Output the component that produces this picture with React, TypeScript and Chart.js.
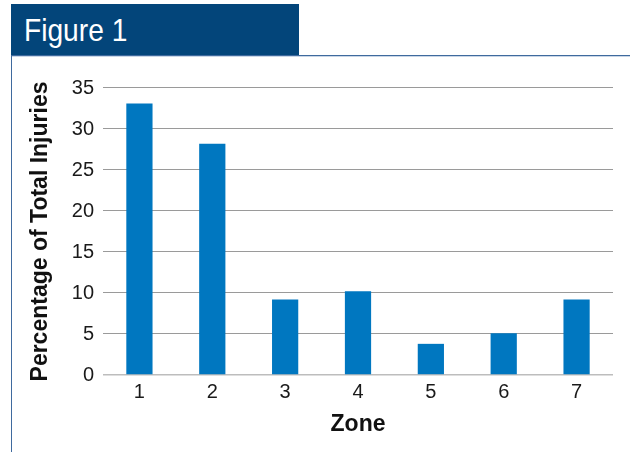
import React, { useEffect, useRef } from "react";
import { Chart, registerables } from "chart.js";

Chart.register(...registerables);

// Share of injuries by zone
const zones = ["1", "2", "3", "4", "5", "6", "7"];
const injuryShare = [33.1, 28.2, 9.2, 10.2, 3.8, 5.1, 9.2];
const yTicks = [0, 5, 10, 15, 20, 25, 30, 35];

const FONT = '"Liberation Sans", Arial, Helvetica, sans-serif';

export default function App() {
  const canvasRef = useRef<HTMLCanvasElement | null>(null);

  useEffect(() => {
    const canvas = canvasRef.current;
    if (!canvas) return;
    const chart = new Chart(canvas, {
      type: "bar",
      data: {
        labels: zones,
        datasets: [
          {
            data: injuryShare,
            backgroundColor: "#0077c0",
            borderWidth: 0,
            barPercentage: 0.36,
            categoryPercentage: 1,
          },
        ],
      },
      options: {
        responsive: false,
        animation: false,
        layout: { padding: { top: 88, right: 17, left: 0, bottom: 0 } },
        plugins: {
          legend: { display: false },
          tooltip: { enabled: false },
        },
        scales: {
          x: {
            grid: { display: false, drawTicks: false },
            border: { display: false },
            ticks: {
              color: "#1a1a1a",
              font: { family: FONT, size: 20 },
              padding: 5,
              maxRotation: 0,
            },
            title: {
              display: true,
              text: "Zone",
              color: "#111",
              font: { family: FONT, size: 23, weight: "bold" },
              padding: { top: 0, bottom: 14 },
            },
            afterFit: (scale: any) => {
              scale.height = 77;
            },
          },
          y: {
            min: 0,
            max: yTicks[yTicks.length - 1],
            afterBuildTicks: (scale: any) => {
              scale.ticks = yTicks.map((v) => ({ value: v }));
            },
            grid: {
              drawTicks: false,
              color: (ctx: any) => (ctx.tick && ctx.tick.value === 0 ? "#bdbdbd" : "#9a9a9a"),
              lineWidth: (ctx: any) => (ctx.tick && ctx.tick.value === 0 ? 1.6 : 1.1),
            },
            border: { display: false },
            ticks: {
              color: "#1a1a1a",
              font: { family: FONT, size: 20 },
              padding: 9,
            },
            title: {
              display: true,
              text: "Percentage of Total Injuries",
              color: "#111",
              font: { family: FONT, size: 23, weight: "bold" },
              padding: { top: 27, bottom: 0 },
            },
            afterFit: (scale: any) => {
              scale.width = 103;
            },
          },
        },
      },
    });
    return () => chart.destroy();
  }, []);

  return (
    <div
      style={{
        position: "absolute",
        left: 0,
        top: 0,
        width: 630,
        height: 452,
        background: "#ffffff",
        overflow: "hidden",
      }}
    >
      <canvas
        ref={canvasRef}
        width={630}
        height={452}
        style={{ position: "absolute", left: 0, top: 0, width: 630, height: 452 }}
      />
      {/* header banner */}
      <div
        style={{
          position: "absolute",
          left: 11,
          top: 4,
          width: 288,
          height: 51,
          background: "#03457a",
        }}
      />
      <div
        style={{
          position: "absolute",
          left: 24,
          top: 14,
          fontFamily: FONT,
          fontSize: 32,
          lineHeight: "32px",
          color: "#ffffff",
          whiteSpace: "nowrap",
          transform: "scaleX(0.88)",
          transformOrigin: "left top",
        }}
      >
        Figure 1
      </div>
      {/* frame lines */}
      <div
        style={{
          position: "absolute",
          left: 11,
          top: 55,
          width: 619,
          height: 1,
          background: "#3f6a9e",
        }}
      />
      <div
        style={{
          position: "absolute",
          left: 11,
          top: 56,
          width: 619,
          height: 1,
          background: "#c9d6e6",
        }}
      />
      <div
        style={{
          position: "absolute",
          left: 11,
          top: 55,
          width: 1,
          height: 397,
          background: "#3f6a9e",
        }}
      />
    </div>
  );
}
